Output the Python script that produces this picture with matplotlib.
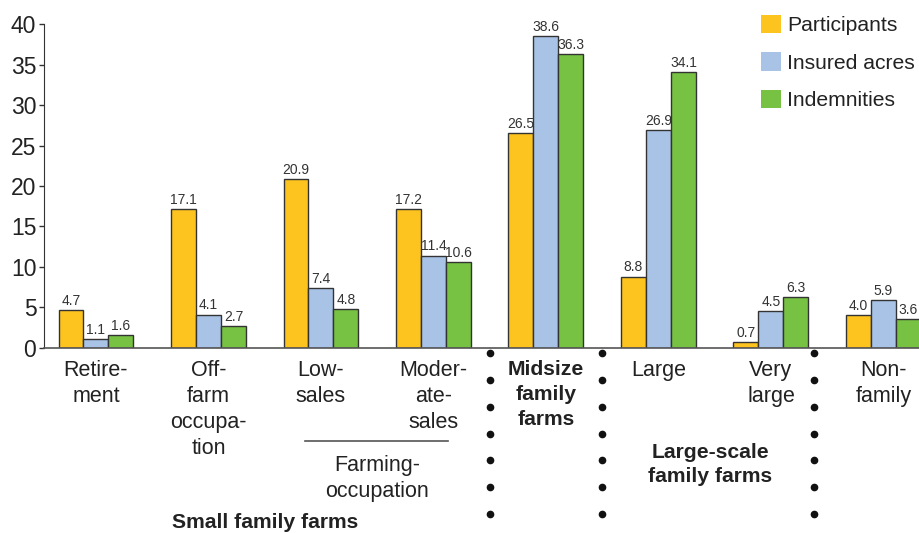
import numpy as np
import matplotlib.pyplot as plt
from matplotlib.patches import Patch

plt.rcParams['font.family'] = ['Liberation Sans', 'DejaVu Sans']

categories = ["Retire-\nment", "Off-\nfarm\noccupa-\ntion", "Low-\nsales",
              "Moder-\nate-\nsales", "Midsize\nfamily\nfarms", "Large",
              "Very\nlarge", "Non-\nfamily"]
participants = [4.7, 17.1, 20.9, 17.2, 26.5, 8.8, 0.7, 4.0]
insured_acres = [1.1, 4.1, 7.4, 11.4, 38.6, 26.9, 4.5, 5.9]
indemnities = [1.6, 2.7, 4.8, 10.6, 36.3, 34.1, 6.3, 3.6]
series_names = ["Participants", "Insured acres", "Indemnities"]
colors = ["#FDC31F", "#A8C3E6", "#77C143"]

fig = plt.figure(figsize=(9.19, 5.33), dpi=100)
ax = fig.add_axes([44 / 919, 185.3 / 533, 875 / 919, 323.4 / 533])

x = np.arange(len(categories))
width = 0.222
text_color = "#222222"

for k, (vals, col) in enumerate(zip([participants, insured_acres, indemnities], colors)):
    rects = ax.bar(x + (k - 1) * width, vals, width, color=col,
                   edgecolor="#333333", linewidth=1.0, label=series_names[k])
    for r, v in zip(rects, vals):
        ax.annotate("{:.1f}".format(v),
                    xy=(r.get_x() + r.get_width() / 2, r.get_height()),
                    xytext=(0, 1.5), textcoords="offset points",
                    ha="center", va="bottom", fontsize=10, color="#333333")

ax.set_xlim(-0.462, 7.316)
ax.set_ylim(0, 40)
ax.set_yticks(range(0, 41, 5))
ax.tick_params(axis="y", labelsize=16.5, length=3.5, width=1, pad=2,
               colors="#333333", labelcolor=text_color)
ax.set_xticks(x)
ax.set_xticklabels(categories, fontsize=15.5, color=text_color, linespacing=1.3)
ax.tick_params(axis="x", length=0, pad=9.2)
for i, lab in enumerate(ax.get_xticklabels()):
    if i == 4:
        lab.set_fontweight("bold")
        lab.set_fontsize(15.2)
        lab.set_linespacing(1.4)

for s in ["top", "right"]:
    ax.spines[s].set_visible(False)
ax.spines["left"].set_color("#333333")
ax.spines["bottom"].set_color("#555555")
ax.spines["bottom"].set_linewidth(1.2)

tr = ax.get_xaxis_transform()


def fy(py):
    # pixel row in the figure -> axes fraction
    return (347.7 - py) / 323.4


# dotted separators
dot_y = [fy(py) for py in [353, 380, 407, 434, 460, 487, 514]]
for sx in [3.502, 4.498, 6.38]:
    ax.plot([sx] * len(dot_y), dot_y, "o", color="#111111", markersize=4.5,
            transform=tr, clip_on=False)

# farming-occupation bracket line
ax.plot([1.858, 3.129], [fy(441), fy(441)], color="#555555", linewidth=1.2,
        transform=tr, clip_on=False)
ax.text(2.5, fy(455.5), "Farming-\noccupation", transform=tr,
        ha="center", va="top", fontsize=15.5, color=text_color, linespacing=1.3)
ax.text(1.5, fy(523), "Small family farms", transform=tr,
        ha="center", va="center", fontsize=15.2, fontweight="bold", color=text_color)
ax.text(5.46, fy(443.5), "Large-scale\nfamily farms", transform=tr,
        ha="center", va="top", fontsize=15.2, fontweight="bold", color=text_color,
        linespacing=1.33)

handles = [Patch(facecolor=c, edgecolor="none") for c in colors]
fig.legend(handles, series_names, loc="upper left",
           bbox_to_anchor=(761 / 919, 1 - 15 / 533), frameon=False,
           fontsize=15.2, handlelength=0.95, handleheight=0.95, handletextpad=0.3,
           labelspacing=0.81, borderpad=0, borderaxespad=0, labelcolor=text_color)

fig.savefig("out.png", dpi=100)
